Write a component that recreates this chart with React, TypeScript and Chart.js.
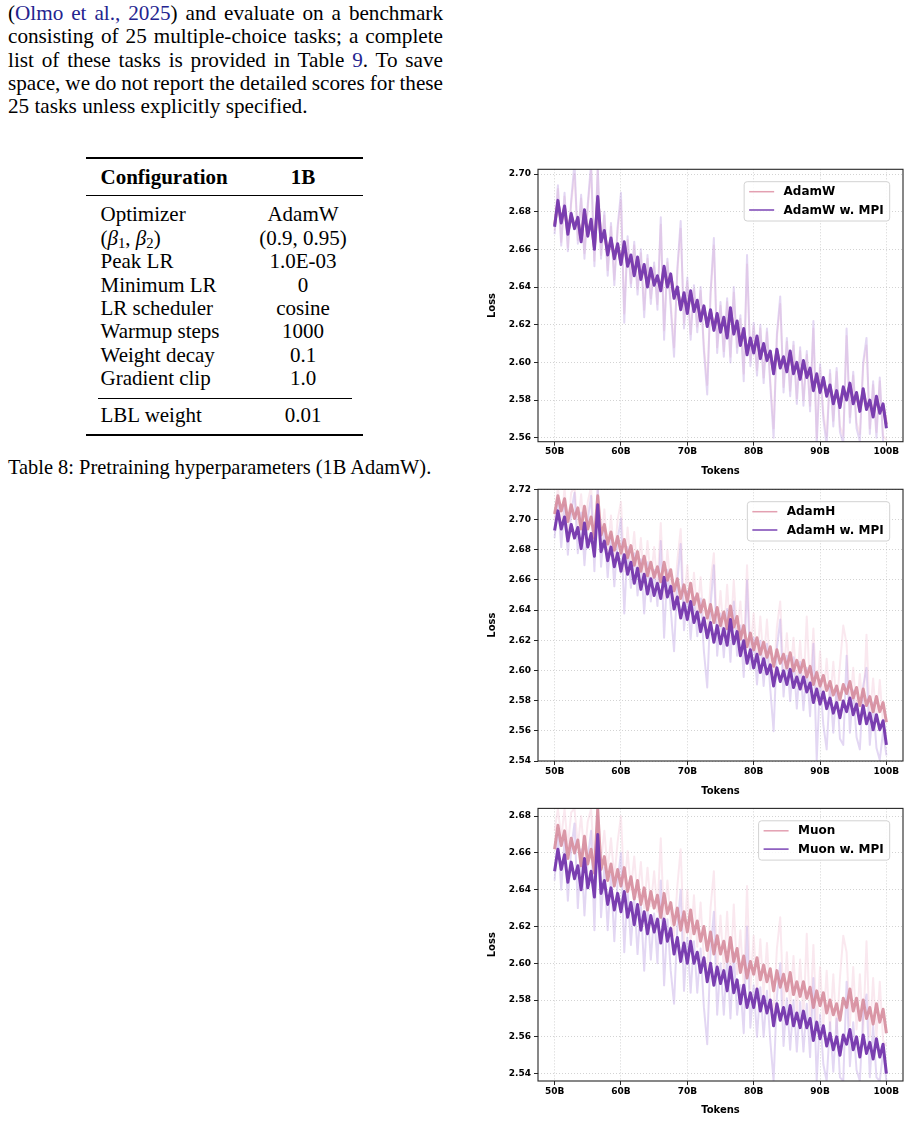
import React, { useEffect, useRef } from 'react';
import { Chart, registerables } from 'chart.js';

Chart.register(...registerables);

// ---------- data ----------
const TOKENS = [
  50, 50.5, 51, 51.5, 52, 52.5, 53, 53.5, 54, 54.5,
  55, 55.5, 56, 56.5, 57, 57.5, 58, 58.5, 59, 59.5,
  60, 60.5, 61, 61.5, 62, 62.5, 63, 63.5, 64, 64.5,
  65, 65.5, 66, 66.5, 67, 67.5, 68, 68.5, 69, 69.5,
  70, 70.5, 71, 71.5, 72, 72.5, 73, 73.5, 74, 74.5,
  75, 75.5, 76, 76.5, 77, 77.5, 78, 78.5, 79, 79.5,
  80, 80.5, 81, 81.5, 82, 82.5, 83, 83.5, 84, 84.5,
  85, 85.5, 86, 86.5, 87, 87.5, 88, 88.5, 89, 89.5,
  90, 90.5, 91, 91.5, 92, 92.5, 93, 93.5, 94, 94.5,
  95, 95.5, 96, 96.5, 97, 97.5, 98, 98.5, 99, 99.5,
  100,
];

// AdamW panel
const ADAMW = [
  2.673, 2.685, 2.675, 2.682, 2.669, 2.678, 2.672, 2.676, 2.665, 2.680,
  2.668, 2.675, 2.661, 2.687, 2.665, 2.669, 2.658, 2.665, 2.656, 2.662,
  2.653, 2.663, 2.652, 2.656, 2.647, 2.655, 2.645, 2.651, 2.641, 2.649,
  2.642, 2.645, 2.639, 2.650, 2.641, 2.646, 2.635, 2.639, 2.629, 2.636,
  2.627, 2.637, 2.628, 2.632, 2.623, 2.629, 2.620, 2.627, 2.618, 2.625,
  2.617, 2.623, 2.614, 2.628, 2.616, 2.621, 2.610, 2.617, 2.605, 2.612,
  2.606, 2.613, 2.603, 2.609, 2.602, 2.605, 2.595, 2.606, 2.598, 2.602,
  2.596, 2.605, 2.595, 2.599, 2.592, 2.600, 2.593, 2.596, 2.586, 2.593,
  2.585, 2.591, 2.583, 2.587, 2.579, 2.584, 2.577, 2.586, 2.581, 2.588,
  2.579, 2.583, 2.575, 2.585, 2.576, 2.579, 2.572, 2.581, 2.574, 2.577,
  2.567,
];
const ADAMW_MPI = [
  2.672, 2.686, 2.674, 2.683, 2.668, 2.679, 2.671, 2.677, 2.664, 2.681,
  2.667, 2.676, 2.660, 2.688, 2.664, 2.670, 2.657, 2.666, 2.655, 2.663,
  2.652, 2.664, 2.651, 2.657, 2.646, 2.656, 2.644, 2.652, 2.640, 2.650,
  2.641, 2.646, 2.638, 2.651, 2.640, 2.647, 2.634, 2.640, 2.628, 2.637,
  2.626, 2.638, 2.627, 2.633, 2.622, 2.630, 2.619, 2.628, 2.617, 2.626,
  2.616, 2.624, 2.613, 2.629, 2.615, 2.622, 2.609, 2.618, 2.604, 2.613,
  2.605, 2.614, 2.602, 2.610, 2.601, 2.606, 2.594, 2.607, 2.597, 2.603,
  2.595, 2.606, 2.594, 2.600, 2.591, 2.601, 2.592, 2.597, 2.585, 2.594,
  2.584, 2.592, 2.582, 2.588, 2.578, 2.585, 2.576, 2.587, 2.580, 2.589,
  2.578, 2.584, 2.574, 2.586, 2.575, 2.580, 2.571, 2.582, 2.573, 2.578,
  2.565,
];
const ADAMW_RAW = [
  2.670, 2.692, 2.664, 2.688, 2.661, 2.684, 2.700, 2.665, 2.687, 2.658,
  2.682, 2.702, 2.654, 2.702, 2.657, 2.678, 2.649, 2.672, 2.644, 2.670,
  2.686, 2.626, 2.665, 2.642, 2.662, 2.639, 2.658, 2.628, 2.655, 2.634,
  2.651, 2.631, 2.673, 2.617, 2.653, 2.632, 2.608, 2.648, 2.671, 2.621,
  2.643, 2.615, 2.639, 2.619, 2.638, 2.609, 2.588, 2.635, 2.662, 2.608,
  2.630, 2.606, 2.632, 2.603, 2.637, 2.608, 2.623, 2.594, 2.652, 2.601,
  2.619, 2.596, 2.618, 2.592, 2.616, 2.591, 2.565, 2.613, 2.631, 2.587,
  2.611, 2.585, 2.609, 2.581, 2.606, 2.580, 2.604, 2.577, 2.618, 2.560,
  2.597, 2.573, 2.561, 2.594, 2.569, 2.595, 2.566, 2.561, 2.614, 2.571,
  2.593, 2.568, 2.562, 2.598, 2.609, 2.565, 2.588, 2.563, 2.590, 2.561,
  2.559,
];
const ADAMW_MPI_RAW = [
  2.668, 2.694, 2.662, 2.690, 2.659, 2.686, 2.706, 2.663, 2.689, 2.655,
  2.684, 2.706, 2.651, 2.704, 2.655, 2.680, 2.646, 2.674, 2.641, 2.672,
  2.690, 2.621, 2.667, 2.640, 2.664, 2.636, 2.660, 2.624, 2.657, 2.631,
  2.653, 2.628, 2.677, 2.612, 2.655, 2.629, 2.603, 2.650, 2.675, 2.618,
  2.645, 2.612, 2.641, 2.616, 2.640, 2.606, 2.583, 2.637, 2.666, 2.605,
  2.632, 2.603, 2.634, 2.600, 2.640, 2.605, 2.625, 2.590, 2.657, 2.598,
  2.621, 2.593, 2.620, 2.589, 2.618, 2.588, 2.560, 2.615, 2.635, 2.584,
  2.613, 2.582, 2.611, 2.578, 2.608, 2.577, 2.606, 2.574, 2.622, 2.556,
  2.599, 2.570, 2.556, 2.596, 2.566, 2.597, 2.563, 2.557, 2.618, 2.568,
  2.595, 2.565, 2.558, 2.600, 2.613, 2.562, 2.590, 2.560, 2.592, 2.558,
  2.556,
];

// AdamH panel
const ADAMH = [
  2.706, 2.718, 2.708, 2.716, 2.701, 2.712, 2.703, 2.710, 2.696, 2.711,
  2.696, 2.704, 2.690, 2.718, 2.692, 2.699, 2.686, 2.694, 2.682, 2.691,
  2.680, 2.689, 2.677, 2.685, 2.672, 2.681, 2.668, 2.678, 2.665, 2.674,
  2.664, 2.671, 2.661, 2.674, 2.662, 2.669, 2.655, 2.663, 2.650, 2.659,
  2.648, 2.660, 2.646, 2.653, 2.641, 2.649, 2.637, 2.646, 2.634, 2.644,
  2.632, 2.641, 2.630, 2.645, 2.631, 2.638, 2.623, 2.632, 2.618, 2.627,
  2.616, 2.624, 2.613, 2.621, 2.611, 2.618, 2.605, 2.616, 2.607, 2.613,
  2.604, 2.614, 2.602, 2.609, 2.601, 2.609, 2.598, 2.605, 2.593, 2.601,
  2.592, 2.599, 2.589, 2.595, 2.586, 2.592, 2.583, 2.593, 2.587, 2.595,
  2.584, 2.591, 2.579, 2.590, 2.579, 2.585, 2.575, 2.585, 2.575, 2.581,
  2.568,
];
const ADAMH_MPI = [
  2.695, 2.708, 2.696, 2.704, 2.688, 2.699, 2.690, 2.697, 2.683, 2.700,
  2.684, 2.693, 2.678, 2.712, 2.681, 2.688, 2.675, 2.684, 2.671, 2.680,
  2.668, 2.679, 2.666, 2.674, 2.660, 2.670, 2.656, 2.666, 2.653, 2.663,
  2.652, 2.660, 2.650, 2.664, 2.651, 2.658, 2.643, 2.651, 2.637, 2.647,
  2.636, 2.648, 2.634, 2.641, 2.628, 2.637, 2.624, 2.634, 2.621, 2.632,
  2.620, 2.630, 2.619, 2.636, 2.620, 2.628, 2.612, 2.622, 2.607, 2.616,
  2.604, 2.613, 2.601, 2.610, 2.600, 2.606, 2.592, 2.604, 2.595, 2.602,
  2.593, 2.603, 2.591, 2.598, 2.590, 2.598, 2.588, 2.594, 2.581, 2.590,
  2.580, 2.588, 2.577, 2.584, 2.574, 2.581, 2.571, 2.582, 2.575, 2.584,
  2.573, 2.580, 2.567, 2.579, 2.567, 2.574, 2.563, 2.573, 2.563, 2.569,
  2.553,
];
const ADAMH_RAW = [
  2.702, 2.724, 2.700, 2.723, 2.696, 2.720, 2.724, 2.698, 2.719, 2.690,
  2.714, 2.724, 2.685, 2.724, 2.687, 2.709, 2.680, 2.705, 2.676, 2.702,
  2.714, 2.668, 2.697, 2.672, 2.694, 2.666, 2.690, 2.660, 2.688, 2.662,
  2.684, 2.659, 2.700, 2.650, 2.682, 2.657, 2.646, 2.675, 2.696, 2.643,
  2.672, 2.640, 2.667, 2.640, 2.664, 2.632, 2.624, 2.660, 2.680, 2.627,
  2.655, 2.625, 2.659, 2.624, 2.662, 2.626, 2.648, 2.614, 2.672, 2.615,
  2.640, 2.608, 2.638, 2.606, 2.636, 2.603, 2.595, 2.631, 2.648, 2.598,
  2.627, 2.597, 2.624, 2.592, 2.622, 2.590, 2.638, 2.588, 2.630, 2.582,
  2.615, 2.582, 2.610, 2.580, 2.608, 2.578, 2.606, 2.632, 2.620, 2.577,
  2.604, 2.574, 2.600, 2.572, 2.626, 2.570, 2.597, 2.568, 2.596, 2.566,
  2.560,
];
const ADAMH_MPI_RAW = [
  2.690, 2.716, 2.684, 2.712, 2.679, 2.707, 2.720, 2.680, 2.707, 2.672,
  2.702, 2.718, 2.668, 2.724, 2.671, 2.697, 2.664, 2.692, 2.658, 2.689,
  2.703, 2.640, 2.684, 2.657, 2.680, 2.652, 2.676, 2.640, 2.674, 2.648,
  2.669, 2.645, 2.688, 2.624, 2.669, 2.643, 2.615, 2.662, 2.686, 2.629,
  2.655, 2.623, 2.651, 2.625, 2.650, 2.615, 2.591, 2.645, 2.672, 2.612,
  2.640, 2.611, 2.643, 2.608, 2.648, 2.612, 2.632, 2.598, 2.662, 2.603,
  2.624, 2.593, 2.622, 2.592, 2.620, 2.590, 2.562, 2.617, 2.636, 2.585,
  2.612, 2.582, 2.611, 2.577, 2.608, 2.576, 2.604, 2.572, 2.620, 2.543,
  2.596, 2.566, 2.550, 2.592, 2.561, 2.592, 2.557, 2.553, 2.612, 2.561,
  2.589, 2.558, 2.550, 2.592, 2.604, 2.553, 2.581, 2.551, 2.543, 2.562,
  2.546,
];

// Muon panel
const MUON = [
  2.662, 2.675, 2.664, 2.672, 2.657, 2.668, 2.660, 2.667, 2.653, 2.669,
  2.654, 2.662, 2.649, 2.684, 2.651, 2.658, 2.645, 2.654, 2.642, 2.651,
  2.642, 2.652, 2.639, 2.647, 2.635, 2.645, 2.632, 2.641, 2.629, 2.639,
  2.630, 2.637, 2.625, 2.638, 2.627, 2.633, 2.621, 2.630, 2.618, 2.628,
  2.617, 2.629, 2.616, 2.623, 2.612, 2.620, 2.607, 2.617, 2.605, 2.615,
  2.605, 2.612, 2.601, 2.614, 2.601, 2.608, 2.595, 2.604, 2.592, 2.601,
  2.594, 2.603, 2.591, 2.599, 2.590, 2.597, 2.585, 2.596, 2.587, 2.594,
  2.585, 2.595, 2.583, 2.590, 2.582, 2.590, 2.581, 2.587, 2.576, 2.585,
  2.577, 2.584, 2.573, 2.580, 2.572, 2.578, 2.569, 2.581, 2.576, 2.586,
  2.574, 2.581, 2.569, 2.580, 2.570, 2.576, 2.567, 2.578, 2.568, 2.575,
  2.562,
];
const MUON_MPI = [
  2.650, 2.662, 2.651, 2.659, 2.644, 2.655, 2.646, 2.653, 2.640, 2.657,
  2.641, 2.650, 2.636, 2.670, 2.638, 2.645, 2.632, 2.641, 2.629, 2.638,
  2.628, 2.639, 2.625, 2.633, 2.621, 2.632, 2.618, 2.628, 2.616, 2.626,
  2.617, 2.624, 2.611, 2.624, 2.612, 2.619, 2.605, 2.614, 2.601, 2.611,
  2.600, 2.612, 2.600, 2.606, 2.595, 2.603, 2.590, 2.600, 2.588, 2.598,
  2.589, 2.596, 2.585, 2.598, 2.584, 2.591, 2.578, 2.588, 2.576, 2.584,
  2.576, 2.586, 2.574, 2.582, 2.573, 2.580, 2.566, 2.578, 2.569, 2.576,
  2.567, 2.577, 2.566, 2.573, 2.565, 2.574, 2.565, 2.570, 2.558, 2.568,
  2.559, 2.566, 2.555, 2.562, 2.553, 2.560, 2.550, 2.561, 2.556, 2.564,
  2.553, 2.560, 2.549, 2.561, 2.551, 2.557, 2.548, 2.559, 2.549, 2.556,
  2.540,
];
const MUON_RAW = [
  2.672, 2.684, 2.668, 2.684, 2.663, 2.682, 2.684, 2.664, 2.680, 2.658,
  2.677, 2.684, 2.652, 2.684, 2.656, 2.672, 2.650, 2.668, 2.646, 2.666,
  2.680, 2.640, 2.661, 2.640, 2.658, 2.636, 2.655, 2.630, 2.652, 2.631,
  2.650, 2.628, 2.668, 2.620, 2.645, 2.624, 2.615, 2.642, 2.662, 2.612,
  2.640, 2.610, 2.637, 2.609, 2.633, 2.602, 2.596, 2.630, 2.650, 2.597,
  2.626, 2.596, 2.628, 2.593, 2.632, 2.594, 2.618, 2.587, 2.642, 2.586,
  2.615, 2.584, 2.613, 2.583, 2.611, 2.580, 2.574, 2.608, 2.625, 2.576,
  2.606, 2.575, 2.604, 2.572, 2.602, 2.571, 2.616, 2.569, 2.610, 2.565,
  2.598, 2.566, 2.596, 2.564, 2.594, 2.562, 2.592, 2.615, 2.606, 2.566,
  2.598, 2.564, 2.594, 2.562, 2.612, 2.560, 2.592, 2.560, 2.590, 2.558,
  2.555,
];
const MUON_MPI_RAW = [
  2.645, 2.670, 2.640, 2.667, 2.634, 2.662, 2.676, 2.630, 2.662, 2.626,
  2.657, 2.672, 2.618, 2.680, 2.625, 2.652, 2.618, 2.648, 2.612, 2.645,
  2.660, 2.606, 2.640, 2.610, 2.636, 2.605, 2.632, 2.596, 2.630, 2.602,
  2.627, 2.600, 2.645, 2.588, 2.624, 2.596, 2.578, 2.620, 2.640, 2.585,
  2.614, 2.584, 2.612, 2.584, 2.608, 2.576, 2.556, 2.606, 2.628, 2.572,
  2.600, 2.572, 2.604, 2.570, 2.606, 2.572, 2.588, 2.562, 2.620, 2.565,
  2.588, 2.560, 2.587, 2.560, 2.585, 2.558, 2.536, 2.582, 2.600, 2.555,
  2.581, 2.553, 2.580, 2.552, 2.579, 2.552, 2.578, 2.549, 2.592, 2.536,
  2.572, 2.545, 2.536, 2.568, 2.541, 2.570, 2.538, 2.536, 2.590, 2.544,
  2.568, 2.542, 2.536, 2.572, 2.583, 2.538, 2.566, 2.538, 2.536, 2.552,
  2.536,
];

const LABELS_ADAMW = ['AdamW', 'AdamW w. MPI'];
const LABELS_ADAMH = ['AdamH', 'AdamH w. MPI'];
const LABELS_MUON = ['Muon', 'Muon w. MPI'];

const Y_RANGE_ADAMW = [2.5579, 2.7025];
const Y_RANGE_ADAMH = [2.5423, 2.7223];
const Y_RANGE_MUON = [2.536, 2.6842];
const X_RANGE = [47.5, 102.5];

const TABLE_ROWS = [
  ['Optimizer', 'AdamW'],
  ['BETA', '(0.9, 0.95)'],
  ['Peak LR', '1.0E-03'],
  ['Minimum LR', '0'],
  ['LR scheduler', 'cosine'],
  ['Warmup steps', '1000'],
  ['Weight decay', '0.1'],
  ['Gradient clip', '1.0'],
];

// ---------- styles ----------
const SERIF = '"Liberation Serif", "Times New Roman", Times, serif';
const SANS = '"DejaVu Sans", sans-serif';
const LINK = '#24248f';
const PURPLE = '#7a3eb0';
const PURPLE_RAW = 'rgba(184,154,224,0.4)';
const PINK = 'rgba(212,134,152,0.85)';
const PINK_RAW = 'rgba(242,194,212,0.38)';
const LEG_PINK = '#e3a0b1';
const LEG_PURPLE = '#7b45b5';
const GRID = 'rgba(170,170,170,0.65)';

const PANELS = [
  { labels: LABELS_ADAMW, base: ADAMW, mpi: ADAMW_MPI, baseRaw: ADAMW_RAW, mpiRaw: ADAMW_MPI_RAW, yr: Y_RANGE_ADAMW,
    top: 160, height: 320, padTop: 9.3, xAxisH: 38.3, titlePadBottom: 3 },
  { labels: LABELS_ADAMH, base: ADAMH, mpi: ADAMH_MPI, baseRaw: ADAMH_RAW, mpiRaw: ADAMH_MPI_RAW, yr: Y_RANGE_ADAMH,
    top: 480, height: 320, padTop: 9.3, xAxisH: 39, titlePadBottom: 3 },
  { labels: LABELS_MUON, base: MUON, mpi: MUON_MPI, baseRaw: MUON_RAW, mpiRaw: MUON_MPI_RAW, yr: Y_RANGE_MUON,
    top: 800, height: 321, padTop: 8.3, xAxisH: 40, titlePadBottom: 4.5 },
];

function legendPlugin(labels: string[]) {
  return {
    id: 'mplLegend',
    afterDraw(chart: any) {
      const { ctx, chartArea: a } = chart;
      ctx.save();
      ctx.font = `bold 12px ${SANS}`;
      const tw = Math.max(...labels.map((l) => ctx.measureText(l).width));
      const w = 39.4 + tw + 6;
      const h = 39.3;
      const right = a.right - 13.3;
      const top = a.top + 12.4;
      const left = right - w;
      ctx.beginPath();
      ctx.roundRect(left, top, w, h, 3);
      ctx.fillStyle = 'rgba(255,255,255,0.85)';
      ctx.fill();
      ctx.strokeStyle = '#d2d2d2';
      ctx.lineWidth = 1;
      ctx.stroke();
      const colors = [LEG_PINK, LEG_PURPLE];
      labels.forEach((l, i) => {
        const y = top + 10 + i * 18.3;
        ctx.beginPath();
        ctx.moveTo(left + 5, y);
        ctx.lineTo(left + 30, y);
        ctx.strokeStyle = colors[i];
        ctx.lineWidth = 1.5;
        ctx.stroke();
        ctx.fillStyle = '#000';
        ctx.textAlign = 'left';
        ctx.textBaseline = 'middle';
        ctx.fillText(l, left + 39.4, y + 0.5);
      });
      ctx.restore();
    },
  };
}

const framePlugin = {
  id: 'frame',
  afterDatasetsDraw(chart: any) {
    const { ctx, chartArea: a } = chart;
    ctx.save();
    ctx.strokeStyle = '#262626';
    ctx.lineWidth = 1.1;
    ctx.strokeRect(a.left, a.top, a.right - a.left, a.bottom - a.top);
    ctx.restore();
  },
};

function makeChart(canvas: HTMLCanvasElement, p: any) {
  const ds = (vals: number[], color: string, width: number, order: number) => ({
    data: TOKENS.map((x, i) => ({ x, y: vals[i] })),
    borderColor: color,
    backgroundColor: color,
    borderWidth: width,
    borderJoinStyle: 'round',
    pointRadius: 0,
    tension: 0,
    fill: false,
    order,
    clip: 0,
  });
  const tickFont = { family: SANS, size: 9, weight: 'bold' as const };
  const titleFont = { family: SANS, size: 10, weight: 'bold' as const };
  const grid = { color: GRID, lineWidth: 0.8, tickLength: 4, tickColor: '#262626', tickWidth: 1 };
  return new Chart(canvas, {
    type: 'line',
    data: {
      datasets: [
        ds(p.mpi, PURPLE, 3.0, 0),
        ds(p.base, PINK, 3.0, 1),
        ds(p.mpiRaw, PURPLE_RAW, 2.0, 2),
        ds(p.baseRaw, PINK_RAW, 2.0, 3),
      ],
    },
    options: {
      animation: false,
      responsive: false,
      devicePixelRatio: 1,
      events: [],
      layout: { padding: { top: p.padTop, right: 8, left: 0, bottom: 0 } },
      plugins: { legend: { display: false }, tooltip: { enabled: false } },
      scales: {
        x: {
          type: 'linear',
          min: X_RANGE[0],
          max: X_RANGE[1],
          ticks: {
            stepSize: 10,
            includeBounds: false,
            autoSkip: false,
            maxRotation: 0,
            padding: 1,
            color: '#000',
            font: tickFont,
            callback: (v: any) => `${v}B`,
          },
          grid,
          border: { display: false, dash: [1, 2] },
          title: { display: true, text: 'Tokens', color: '#000', font: titleFont, padding: { top: 0, bottom: p.titlePadBottom } },
          afterFit: (s: any) => { s.height = p.xAxisH; },
        },
        y: {
          type: 'linear',
          min: p.yr[0],
          max: p.yr[1],
          ticks: {
            stepSize: 0.02,
            includeBounds: false,
            padding: 3,
            color: '#000',
            font: tickFont,
            callback: (v: any) => Number(v).toFixed(2),
          },
          grid,
          border: { display: false, dash: [1, 2] },
          title: { display: true, text: 'Loss', color: '#000', font: titleFont, padding: { top: 6, bottom: 0 } },
          afterFit: (s: any) => { s.width = 58; },
        },
      },
    } as any,
    plugins: [framePlugin, legendPlugin(p.labels)],
  });
}

const BODY_LINES: { content: React.ReactNode; justify: boolean; baseline: number }[] = [
  {
    content: (<>(<span style={{ color: LINK }}>Olmo et al., 2025</span>) and evaluate on a benchmark</>),
    justify: true, baseline: 21,
  },
  { content: 'consisting of 25 multiple-choice tasks; a complete', justify: true, baseline: 44.3 },
  {
    content: (<>list of these tasks is provided in Table <span style={{ color: LINK }}>9</span>. To save</>),
    justify: true, baseline: 67.6,
  },
  { content: 'space, we do not report the detailed scores for these', justify: true, baseline: 90.9 },
  { content: '25 tasks unless explicitly specified.', justify: false, baseline: 114.2 },
];

const ASC = 18.74;

function Rule({ left, width, top, h }: { left: number; width: number; top: number; h: number }) {
  return <div style={{ position: 'absolute', left, width, top, height: h, background: '#000' }} />;
}

function Label({ text }: { text: string }) {
  if (text === 'BETA') {
    return (
      <span>
        (<i>β</i><sub style={{ fontSize: '70%', verticalAlign: '-0.22em' }}>1</sub>,{' '}
        <i>β</i><sub style={{ fontSize: '70%', verticalAlign: '-0.22em' }}>2</sub>)
      </span>
    );
  }
  return <span>{text}</span>;
}

export default function App() {
  const r0 = useRef<HTMLCanvasElement>(null);
  const r1 = useRef<HTMLCanvasElement>(null);
  const r2 = useRef<HTMLCanvasElement>(null);

  useEffect(() => {
    document.body.style.overflow = 'hidden';
    const refs = [r0, r1, r2];
    const charts = PANELS.map((p, i) => makeChart(refs[i].current as HTMLCanvasElement, p));
    return () => charts.forEach((c) => c.destroy());
  }, []);

  const textBase: React.CSSProperties = {
    position: 'absolute',
    fontFamily: SERIF,
    fontSize: 21,
    lineHeight: '23.3px',
    color: '#000',
    whiteSpace: 'nowrap',
  };

  const rowBaselines = [221.9, 245.4, 268.8, 292.3, 315.8, 339.2, 362.7, 386.2];

  return (
    <div>
      {BODY_LINES.map((l, i) => (
        <div
          key={i}
          style={{
            ...textBase,
            fontSize: 21.2,
            left: 8,
            width: 435,
            top: l.baseline - 18.9,
            whiteSpace: 'normal',
            wordSpacing: l.justify ? '-2.5px' : '0px',
            textAlign: l.justify ? 'justify' : 'left',
            textAlignLast: l.justify ? 'justify' : 'left',
          } as React.CSSProperties}
        >
          {l.content}
        </div>
      ))}

      {/* table */}
      <Rule left={86} width={277} top={157.4} h={1.8} />
      <div style={{ ...textBase, left: 100.5, top: 184.5 - ASC, fontWeight: 'bold' }}>Configuration</div>
      <div style={{ ...textBase, left: 223, width: 160, textAlign: 'center', top: 184.5 - ASC, fontWeight: 'bold' }}>1B</div>
      <Rule left={86} width={277} top={195.2} h={1.1} />
      {TABLE_ROWS.map(([k, v], i) => (
        <React.Fragment key={k}>
          <div style={{ ...textBase, left: 100.5, top: rowBaselines[i] - ASC }}>
            <Label text={k} />
          </div>
          <div style={{ ...textBase, left: 223, width: 160, textAlign: 'center', top: rowBaselines[i] - ASC }}>{v}</div>
        </React.Fragment>
      ))}
      <Rule left={98} width={254} top={397.8} h={1} />
      <div style={{ ...textBase, left: 100.5, top: 422.9 - ASC }}>LBL weight</div>
      <div style={{ ...textBase, left: 223, width: 160, textAlign: 'center', top: 422.9 - ASC }}>0.01</div>
      <Rule left={86} width={277} top={434.2} h={1.8} />
      <div style={{ ...textBase, fontSize: 20.4, left: 8, top: 474.5 - 18.2 }}>
        Table 8: Pretraining hyperparameters (1B AdamW).
      </div>

      {/* charts */}
      {PANELS.map((p, i) => (
        <canvas
          key={i}
          ref={[r0, r1, r2][i]}
          width={431}
          height={p.height}
          style={{ position: 'absolute', left: 480, top: p.top, width: 431, height: p.height }}
        />
      ))}
    </div>
  );
}
